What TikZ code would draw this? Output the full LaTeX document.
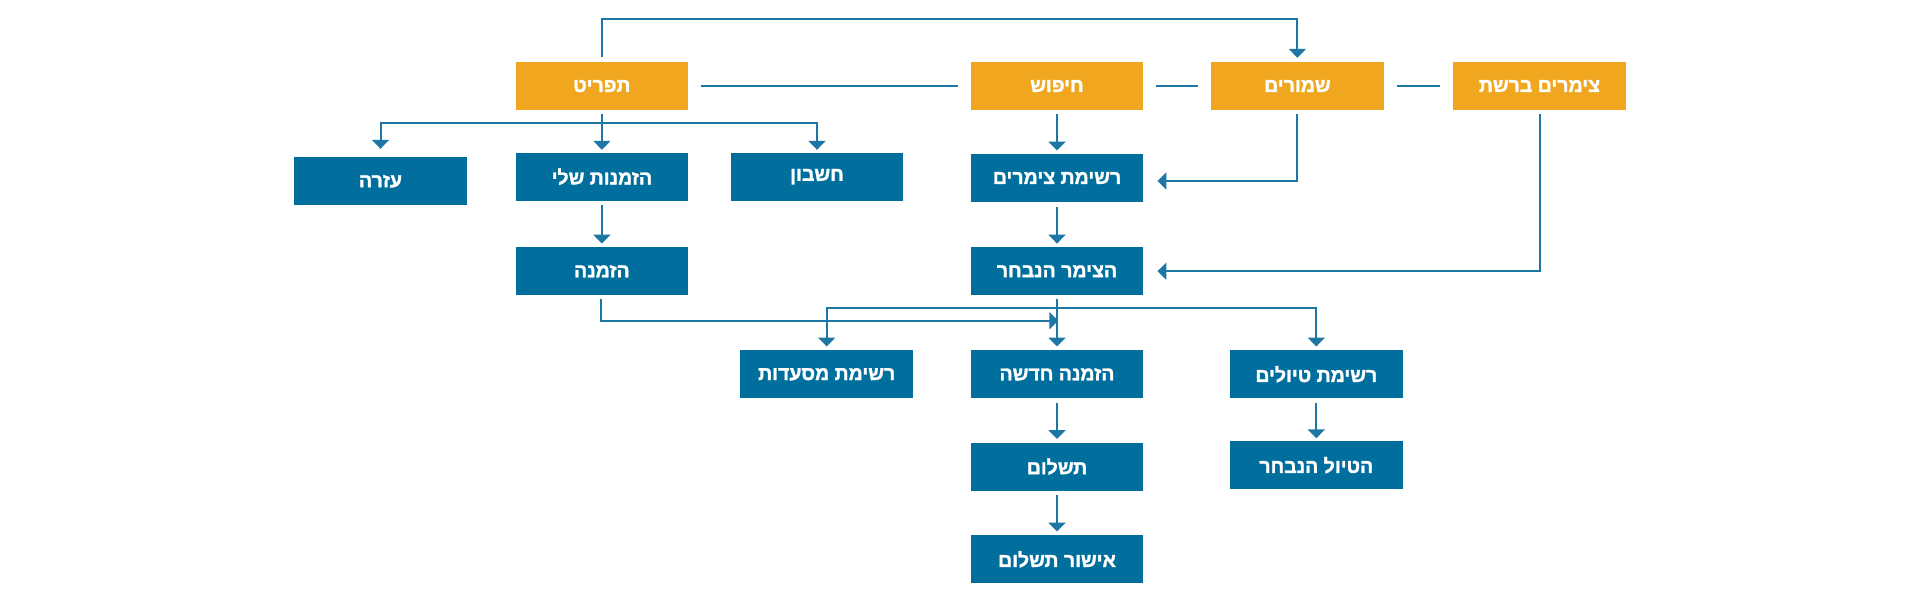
\documentclass[tikz,border=0pt]{standalone}
\usepackage{fontspec}
\newfontfamily\hebfont[Script=Hebrew,BoldFeatures={FakeBold=1.6}]{Liberation Sans}
\TeXXeTstate=1
\usetikzlibrary{arrows.meta}
\definecolor{orng}{HTML}{F0A71F}
\definecolor{bluebox}{HTML}{006F9E}
\definecolor{linec}{HTML}{1C77A4}
\begin{document}
\begin{tikzpicture}[x=1pt,y=-1pt,
  box/.style={minimum width=172.5pt,minimum height=48pt,inner sep=0pt,text=white,
    font=\hebfont\bfseries\fontsize{19.5}{22}\selectfont},
  topbox/.style={box,fill=orng},
  subbox/.style={box,fill=bluebox},
  conn/.style={draw=linec,line width=2pt},
  arr/.style={conn,-{Triangle[width=17pt,length=9pt]}}]
\useasboundingbox[fill=white] (0,0) rectangle (1920,595);

% top row
\node[topbox] (menu)    at (601.9,86)  {\beginR תפריט\endR};
\node[topbox] (search)  at (1057,86)   {\beginR חיפוש\endR};
\node[topbox] (saved)   at (1297.4,86) {\beginR שמורים\endR};
\node[topbox] (zimmers) at (1539.5,86) {\beginR צימרים ברשת\endR};

% second row
\node[subbox] (help)     at (380.5,181.3) {\beginR עזרה\endR};
\node[subbox] (myorders) at (601.9,176.7) {\beginR הזמנות שלי\endR};
\node[subbox] (account)  at (817,176.7)   {\beginR חשבון\endR};
\node[subbox] (zlist)    at (1057,178)    {\beginR רשימת צימרים\endR};

% third row
\node[subbox] (order)  at (601.9,271.2) {\beginR הזמנה\endR};
\node[subbox] (chosen) at (1057,271.2)  {\beginR הצימר הנבחר\endR};

% fourth row
\node[subbox] (restaurants) at (826.7,374.3)  {\beginR רשימת מסעדות\endR};
\node[subbox] (neworder)    at (1057,374.3)   {\beginR הזמנה חדשה\endR};
\node[subbox] (trips)       at (1316.3,374.3) {\beginR רשימת טיולים\endR};

% fifth / sixth rows
\node[subbox] (payment)    at (1057,466.5)   {\beginR תשלום\endR};
\node[subbox] (chosentrip) at (1316.3,465.2) {\beginR הטיול הנבחר\endR};
\node[subbox] (confirm)    at (1057,559.3)   {\beginR אישור תשלום\endR};

% top loop
\draw[arr,shorten <=5pt,shorten >=4pt] (menu.north) -- ++(0,-42.5) -| (saved.north);

% plain links between top boxes
\draw[conn,shorten <=13pt,shorten >=13pt] (menu.east) -- (search.west);
\draw[conn,shorten <=13pt,shorten >=13pt] (search.east) -- (saved.west);
\draw[conn,shorten <=13pt,shorten >=13pt] (saved.east) -- (zimmers.west);

% menu branches
\coordinate (br1) at (601.9,123.3);
\draw[arr,shorten <=4pt,shorten >=2.7pt] (menu.south) -- (myorders.north);
\draw[arr,shorten >=8.3pt] (br1) -| (help.north);
\draw[arr,shorten >=2.7pt] (br1) -| (account.north);

% search column
\draw[arr,shorten <=4pt,shorten >=3.3pt] (search.south) -- (zlist.north);
\draw[arr,shorten <=4pt,shorten >=14pt] (saved.south) |- ([yshift=-3pt]zlist.east);
\draw[arr,shorten <=4pt,shorten >=14pt] (zimmers.south) |- (chosen.east);
\draw[arr,shorten <=4.4pt,shorten >=3.4pt] (zlist.south) -- (chosen.north);
\draw[arr,shorten <=4pt,shorten >=3.4pt] (myorders.south) -- (order.north);

% chosen branches
\coordinate (br2) at (1057,307.7);
\draw[arr,shorten <=3.3pt,shorten >=3.6pt] (chosen.south) -- (neworder.north);
\draw[arr,shorten >=3.6pt] (br2) -| (restaurants.north);
\draw[arr,shorten >=3.6pt] (br2) -| (trips.north);

% order to new order
\coordinate (ordtip) at (1058.3,320.7);
\draw[arr,shorten <=3.3pt] ([xshift=-1.2pt]order.south) |- (ordtip);

% lower chains
\draw[arr,shorten <=4.4pt,shorten >=3.3pt] (neworder.south) -- (payment.north);
\draw[arr,shorten <=4.3pt,shorten >=3.6pt] (payment.south) -- (confirm.north);
\draw[arr,shorten <=4.4pt,shorten >=2.7pt] (trips.south) -- (chosentrip.north);
\end{tikzpicture}
\end{document}
